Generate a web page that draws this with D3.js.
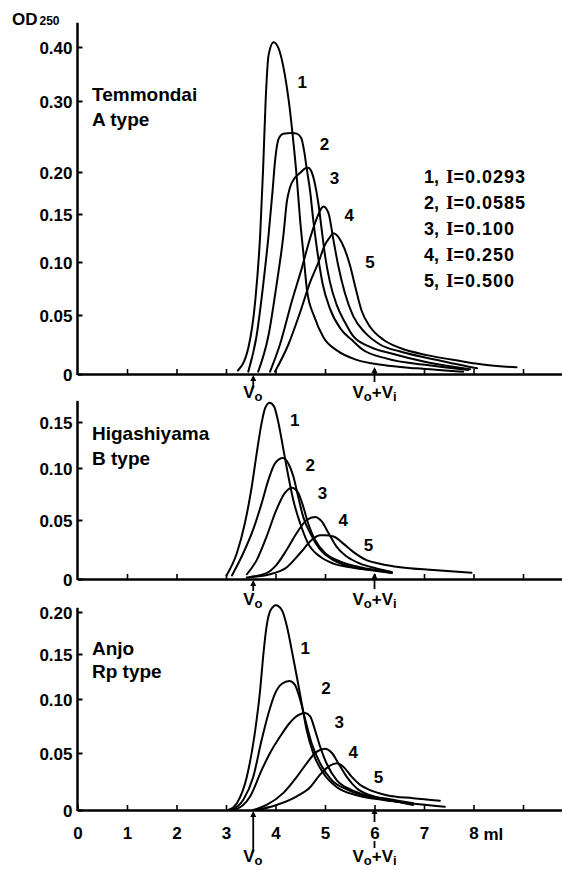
<!DOCTYPE html>
<html><head><meta charset="utf-8">
<script src="https://cdn.jsdelivr.net/npm/d3@7"></script>
<style>
html,body{margin:0;padding:0;background:#fff;}
svg{display:block;}
text{font-family:"Liberation Sans",Arial,sans-serif;font-weight:bold;fill:#000;}
</style></head><body>
<svg id="chart" width="562" height="870"></svg>
<script>
// ---- data ----
const volumeTicks = [0,1,2,3,4,5,6,7,8,9];
const volumeTickLabels = ["0","1","2","3","4","5","6","7","8",""];
const topTicks = [0,0.05,0.10,0.15,0.20,0.30,0.40];
const topTickLabels = ["0","0.05","0.10","0.15","0.20","0.30","0.40"];
const midTicks = [0,0.05,0.10,0.15];
const midTickLabels = ["0","0.05","0.10","0.15"];
const botTicks = [0,0.05,0.10,0.15,0.20];
const botTickLabels = ["0","0.05","0.10","0.15","0.20"];
const seriesNames = ["1","2","3","4","5"];
const ionicStrength = ["0.0293","0.0585","0.100","0.250","0.500"];
const voidVolume = 3.55;
const totalVolume = 6.0;

// Temmondai A type  [ml, OD250]
const temmondai1 = [[3.24,0.003],[3.45,0.022],[3.59,0.063],[3.69,0.128],[3.75,0.205],[3.80,0.299],[3.86,0.385],[3.96,0.409],[4.06,0.398],[4.19,0.348],[4.27,0.299],[4.36,0.243],[4.43,0.193],[4.50,0.142],[4.56,0.111],[4.64,0.072],[4.78,0.049],[4.97,0.031],[5.24,0.020],[5.64,0.012],[6.18,0.0076],[6.85,0.0048],[7.79,0.0019]];
const temmondai2 = [[3.45,0.002],[3.62,0.033],[3.75,0.078],[3.86,0.128],[3.94,0.177],[3.99,0.215],[4.07,0.248],[4.16,0.254],[4.33,0.255],[4.43,0.254],[4.52,0.248],[4.58,0.229],[4.63,0.205],[4.70,0.177],[4.76,0.145],[4.84,0.113],[4.95,0.080],[5.10,0.056],[5.32,0.038],[5.54,0.029],[5.75,0.021],[6.25,0.013],[7.06,0.0076],[7.89,0.0034]];
const temmondai3 = [[3.65,0.002],[3.86,0.033],[4.02,0.078],[4.16,0.128],[4.23,0.165],[4.29,0.181],[4.39,0.193],[4.50,0.199],[4.60,0.205],[4.66,0.206],[4.73,0.200],[4.80,0.185],[4.87,0.161],[4.93,0.135],[5.00,0.107],[5.10,0.081],[5.24,0.059],[5.40,0.044],[5.57,0.032],[5.91,0.023],[6.38,0.017],[7.06,0.010],[7.93,0.004]];
const temmondai4 = [[3.89,0.002],[4.09,0.025],[4.33,0.063],[4.53,0.094],[4.70,0.125],[4.83,0.145],[4.93,0.157],[4.97,0.159],[5.07,0.151],[5.17,0.123],[5.27,0.096],[5.40,0.071],[5.57,0.049],[5.81,0.035],[6.11,0.025],[6.52,0.019],[7.19,0.0125],[8.07,0.0048]];
const temmondai5 = [[3.99,0.002],[4.26,0.025],[4.50,0.053],[4.70,0.081],[4.87,0.100],[5.00,0.118],[5.10,0.126],[5.17,0.130],[5.34,0.120],[5.51,0.096],[5.61,0.077],[5.74,0.054],[5.91,0.040],[6.18,0.029],[6.52,0.022],[7.06,0.016],[7.73,0.011],[8.27,0.0076],[8.87,0.0057]];
const temmondaiNumAt = [[4.54,0.336],[4.99,0.240],[5.19,0.193],[5.49,0.149],[5.91,0.100]];

// Higashiyama B type
const higashiyama1 = [[3.01,0.003],[3.22,0.022],[3.38,0.047],[3.52,0.082],[3.62,0.116],[3.72,0.149],[3.79,0.165],[3.88,0.171],[3.97,0.167],[4.06,0.149],[4.16,0.120],[4.26,0.092],[4.36,0.069],[4.50,0.047],[4.66,0.030],[4.90,0.019],[5.17,0.013],[5.51,0.010],[6.01,0.007],[6.35,0.005]];
const higashiyama2 = [[3.12,0.003],[3.35,0.022],[3.55,0.042],[3.72,0.066],[3.86,0.089],[3.99,0.105],[4.15,0.111],[4.26,0.105],[4.36,0.092],[4.46,0.072],[4.56,0.053],[4.70,0.039],[4.90,0.025],[5.17,0.016],[5.57,0.010],[5.98,0.0076],[6.35,0.0053]];
const higashiyama3 = [[3.42,0.004],[3.62,0.016],[3.82,0.036],[4.02,0.060],[4.19,0.076],[4.33,0.081],[4.46,0.076],[4.56,0.063],[4.66,0.047],[4.80,0.033],[5.00,0.022],[5.30,0.015],[5.71,0.010],[6.31,0.006]];
const higashiyama4 = [[3.42,0.0013],[3.82,0.005],[4.02,0.012],[4.23,0.025],[4.43,0.039],[4.63,0.050],[4.80,0.053],[4.93,0.049],[5.07,0.039],[5.24,0.027],[5.44,0.019],[5.71,0.013],[6.04,0.009],[6.35,0.006]];
const higashiyama5 = [[3.49,0.0017],[3.89,0.004],[4.23,0.010],[4.50,0.022],[4.73,0.033],[4.90,0.037],[5.00,0.037],[5.17,0.036],[5.37,0.030],[5.57,0.023],[5.84,0.016],[6.11,0.013],[6.52,0.010],[7.19,0.0076],[7.96,0.0053]];
const higashiyamaNumAt = [[4.39,0.152],[4.70,0.103],[4.95,0.076],[5.37,0.050],[5.88,0.029]];

// Anjo Rp type
const anjo1 = [[3.05,0.0],[3.22,0.006],[3.42,0.029],[3.59,0.071],[3.69,0.110],[3.75,0.147],[3.82,0.183],[3.90,0.202],[4.01,0.208],[4.13,0.202],[4.23,0.183],[4.33,0.154],[4.43,0.125],[4.53,0.096],[4.63,0.071],[4.76,0.050],[4.97,0.032],[5.24,0.020],[5.64,0.013],[6.18,0.0088],[6.72,0.0059],[7.42,0.0029]];
const anjo2 = [[3.12,0.0],[3.35,0.009],[3.55,0.029],[3.72,0.062],[3.86,0.087],[3.99,0.106],[4.13,0.117],[4.28,0.120],[4.39,0.116],[4.50,0.099],[4.60,0.081],[4.73,0.059],[4.90,0.041],[5.14,0.026],[5.44,0.018],[5.84,0.012],[6.25,0.0088],[6.65,0.0059]];
const anjo3 = [[3.18,0.0],[3.49,0.012],[3.72,0.035],[3.89,0.050],[4.09,0.065],[4.29,0.078],[4.46,0.085],[4.60,0.087],[4.70,0.084],[4.80,0.071],[4.90,0.056],[5.03,0.041],[5.24,0.026],[5.51,0.018],[5.91,0.012],[6.31,0.0088],[6.78,0.0044]];
const anjo4 = [[3.55,0.0],[3.82,0.0044],[4.16,0.015],[4.43,0.029],[4.63,0.041],[4.83,0.051],[5.00,0.054],[5.14,0.050],[5.27,0.041],[5.44,0.029],[5.64,0.019],[5.91,0.013],[6.31,0.0094],[6.78,0.0059]];
const anjo5 = [[3.62,0.0],[4.02,0.0044],[4.43,0.012],[4.70,0.020],[4.90,0.031],[5.07,0.038],[5.24,0.041],[5.37,0.038],[5.54,0.029],[5.71,0.022],[5.91,0.0175],[6.25,0.013],[6.78,0.0103],[7.32,0.0082]];
const anjoNumAt = [[4.60,0.157],[5.02,0.112],[5.29,0.079],[5.57,0.051],[6.08,0.029]];

// ---- layout ----
const svg = d3.select("#chart");
const x = d3.scaleLinear().domain([0, 9.8]).range([77.5, 562.6]);

const panels = [
  {ticks: topTicks, labels: topTickLabels, stops: [374,315,262,214,172,101,47], axisTop: 0.445,
   series: [temmondai1,temmondai2,temmondai3,temmondai4,temmondai5], numAt: temmondaiNumAt,
   title: ["Temmondai","A type"], titleY: [101,126],
   v0Arrow: [387,375], vtArrow: [382,367], vLabelY: 398, vtTick: null, xLabels: false},
  {ticks: midTicks, labels: midTickLabels, stops: [579,520,468,422], axisTop: 0.173,
   series: [higashiyama1,higashiyama2,higashiyama3,higashiyama4,higashiyama5], numAt: higashiyamaNumAt,
   title: ["Higashiyama","B type"], titleY: [440,465],
   v0Arrow: [591,580], vtArrow: [589,573], vLabelY: 605, vtTick: null, xLabels: false},
  {ticks: botTicks, labels: botTickLabels, stops: [810,753,699,654,612], axisTop: 0.205,
   series: [anjo1,anjo2,anjo3,anjo4,anjo5], numAt: anjoNumAt,
   title: ["Anjo","Rp type"], titleY: [655,678],
   v0Arrow: [851,811], vtArrow: [822,808], vLabelY: 862, vtTick: [841,848], xLabels: true}
];

function arrow(g, xp, y0, y1) {
  g.append("line").attr("x1", xp).attr("x2", xp).attr("y1", y0).attr("y2", y1 + 3)
    .attr("stroke", "#000").attr("stroke-width", 1.8);
  g.append("path").attr("d", `M${xp},${y1} L${xp-3},${y1+6} L${xp+3},${y1+6} Z`).attr("fill", "#000");
}

panels.forEach(p => {
  const y = d3.scaleLinear().domain(p.ticks).range(p.stops);
  const g = svg.append("g");

  // y axis
  const ya = g.append("g").attr("transform", `translate(${x(0)},0)`)
    .call(d3.axisLeft(y).tickValues(p.ticks).tickFormat((d,i) => p.labels[i])
      .tickSize(-5).tickSizeOuter(0).tickPadding(5));
  ya.select(".domain").remove();
  ya.selectAll(".tick line").attr("stroke", "#000").attr("stroke-width", 2);
  ya.selectAll(".tick text").attr("font-size", 17).attr("font-family", '"Liberation Sans",Arial,sans-serif')
    .attr("font-weight", "bold").attr("fill", "#000").attr("dy", "0.36em");
  g.append("line").attr("x1", x(0)).attr("x2", x(0)).attr("y1", y(0) + 1).attr("y2", y(p.axisTop))
    .attr("stroke", "#000").attr("stroke-width", 2.5);

  // x axis
  const xa = g.append("g").attr("transform", `translate(0,${y(0)})`)
    .call(d3.axisBottom(x).tickValues(p.xLabels ? volumeTicks : volumeTicks.slice(1))
      .tickFormat((d) => p.xLabels ? volumeTickLabels[volumeTicks.indexOf(d)] : "")
      .tickSize(-5).tickSizeOuter(0).tickPadding(17));
  xa.select(".domain").attr("stroke", "#000").attr("stroke-width", 2.5);
  xa.selectAll(".tick line").attr("stroke", "#000").attr("stroke-width", 1.6);
  xa.selectAll(".tick text").attr("font-size", 17).attr("font-family", '"Liberation Sans",Arial,sans-serif')
    .attr("font-weight", "bold").attr("fill", "#000");
  if (p.xLabels) {
    g.append("text").attr("x", x(8) + 10).attr("y", y(0) + 30).attr("font-size", 17).text("ml");
  }

  // curves
  const line = d3.line().x(d => x(d[0])).y(d => y(d[1])).curve(d3.curveMonotoneX);
  g.selectAll("path.curve").data(p.series).join("path").attr("class", "curve")
    .attr("d", line).attr("fill", "none").attr("stroke", "#000").attr("stroke-width", 2)
    .attr("stroke-linejoin", "round").attr("stroke-linecap", "round");

  // curve numbers
  g.selectAll("text.num").data(p.numAt).join("text").attr("class", "num")
    .attr("x", d => x(d[0])).attr("y", d => y(d[1])).attr("dy", "0.36em")
    .attr("text-anchor", "middle").attr("font-size", 17).text((d,i) => seriesNames[i]);

  // panel title
  p.title.forEach((t, i) => {
    g.append("text").attr("x", 92).attr("y", p.titleY[i]).attr("font-size", 19).text(t);
  });

  // V0 and V0+Vi markers
  const xv0 = x(voidVolume), xvt = x(totalVolume);
  arrow(g, xv0, p.v0Arrow[0], p.v0Arrow[1]);
  arrow(g, xvt, p.vtArrow[0], p.vtArrow[1]);
  if (p.vtTick) {
    g.append("line").attr("x1", xvt).attr("x2", xvt).attr("y1", p.vtTick[0]).attr("y2", p.vtTick[1])
      .attr("stroke", "#000").attr("stroke-width", 1.8);
  }
  const t0 = g.append("text").attr("x", xv0 - 10).attr("y", p.vLabelY).attr("font-size", 17);
  t0.append("tspan").text("V");
  t0.append("tspan").attr("font-size", 13).attr("dy", 3).text("o");
  const t1 = g.append("text").attr("x", xvt - 22).attr("y", p.vLabelY).attr("font-size", 17);
  t1.append("tspan").text("V");
  t1.append("tspan").attr("font-size", 13).attr("dy", 3).text("o");
  t1.append("tspan").attr("dy", -3).text("+V");
  t1.append("tspan").attr("font-size", 13).attr("dy", 3).text("i");
});

// OD250 label
const od = svg.append("text").attr("x", 12).attr("y", 25).attr("font-size", 17);
od.append("tspan").text("OD");
od.append("tspan").attr("font-size", 12).attr("dx", 2).text("250");

// legend (ionic strength)
const legend = svg.append("g");
ionicStrength.forEach((v, i) => {
  const t = legend.append("text").attr("x", 424).attr("y", 183 + i * 26).attr("font-size", 18);
  t.append("tspan").text(seriesNames[i] + ",");
  t.append("tspan").attr("x", 446).attr("font-family", '"Liberation Serif",serif').attr("font-size", 19).text("I");
  t.append("tspan").attr("letter-spacing", 1).text("=" + v);
});
</script>
</body></html>
